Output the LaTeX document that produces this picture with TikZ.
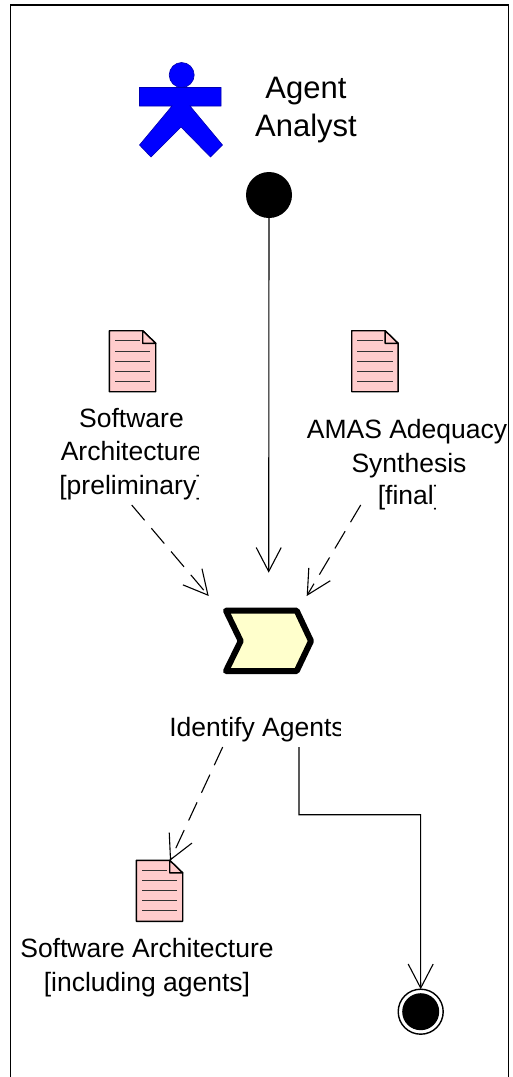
\documentclass[tikz,border=0pt]{standalone}
\usepackage{fontspec}
\setmainfont{Liberation Sans}
\usetikzlibrary{arrows.meta}
\tikzset{
  x=1pt,y=-1pt,
  lbl/.style={inner sep=0pt,outer sep=0pt,align=center,font=\fontsize{26.5}{33.5}\selectfont},
  biglbl/.style={inner sep=0pt,outer sep=0pt,align=center,font=\fontsize{31}{37.5}\selectfont},
  flow/.style={line width=1.1pt,-{Straight Barb[length=24pt,width=25pt,line width=1.1pt]}},
  dep/.style={flow,dash pattern=on 20pt off 10.5pt},
  docicon/.pic={
    \node[minimum width=46pt,minimum height=61pt,inner sep=0pt,outer sep=0pt] (box) at (23,30.5) {};
    \draw[fill=docpink,line width=1.4pt,line join=round] (0,0)--(33.4,0)--(46.4,12.6)--(46.4,61)--(0,61)--cycle;
    \draw[fill=docpink,line width=1.4pt,line join=round] (33.4,0)--(33.4,12.6)--(46.4,12.6)--cycle;
    \draw[line width=1pt,black!80] (5.7,10)--(31,10) (5.7,20.3)--(41,20.3) (5.7,30.3)--(41,30.3) (5.7,40.3)--(41,40.3) (5.7,50.3)--(41,50.3);
  }
}
\definecolor{docpink}{RGB}{255,204,204}
\definecolor{actblue}{RGB}{0,0,255}
\definecolor{actyellow}{RGB}{255,255,204}
\begin{document}
\begin{tikzpicture}
\useasboundingbox (0,0) rectangle (512,1077);
\fill[white] (0,0) rectangle (512,1077);
% frame
\draw[line width=1.5pt] (10.7,1077)--(10.7,5)--(508.3,5)--(508.3,1077);
% actor
\node[circle,fill=actblue,draw=black!30!actblue,line width=0.6pt,minimum size=25pt,inner sep=0pt] (head) at (181.7,75) {};
\fill[actblue,draw=black!30!actblue,line width=0.6pt] (139.5,87.5)--(221,87.5)--(221,106)--(190,106)--(222.5,145)--(210.5,157)--(181,127)--(151,157)--(139.5,145)--(172,106)--(139.5,106)--cycle;
\begin{scope}
\clip (240,60) rectangle (356.5,150);
\node[biglbl] (analyst) at (306,110) {Agent\\Analyst};
\end{scope}
% start
\node[circle,fill=black,minimum size=46pt,inner sep=0pt,outer sep=0pt] (start) at (269,195) {};
% docs
\pic (d1) at (109.3,330.7) {docicon};
\pic (d2) at (351.7,330.7) {docicon};
\pic (d3) at (136.3,860.3) {docicon};
% labels
\begin{scope}
\clip (40,400) rectangle (198.5,500);
\node[lbl] (l1) at (131.5,454) {Software\\Architecture\\{[}preliminary{]}};
\end{scope}
\node[lbl] (l2a) at (407,432) {AMAS Adequacy};
\node[lbl] (l2b) at (409,466) {Synthesis};
\begin{scope}
\clip (300,480) rectangle (435,515);
\node[lbl] (l2c) at (409.5,498) {{[}final{]}};
\end{scope}
\begin{scope}
\clip (150,700) rectangle (340,745);
\node[lbl] (l3) at (257,730) {Identify Agents};
\end{scope}
\begin{scope}
\clip (10,925) rectangle (272,1000);
\node[lbl] (l4) at (147,967.5) {Software Architecture\\{[}including agents{]}};
\end{scope}
% activity
\node[minimum width=86pt,minimum height=60pt,inner sep=0pt] (act) at (268.5,641) {};
\draw[fill=actyellow,line width=6pt,line join=round] (226,610.7)--(296.7,610.7)--(311,641)--(296.7,671)--(226,671)--(240.7,641)--cycle;
% final
\node[circle,draw=black,fill=white,line width=1.4pt,minimum size=45pt,inner sep=0pt,outer sep=0pt] (final) at (420.7,1011.7) {};
\node[circle,fill=black,minimum size=37pt,inner sep=0pt] (finalin) at (final) {};
% connector ends
\coordinate (tipmain) at (268.7,572.7);
\coordinate (s1) at (131.7,505);
\coordinate (t1) at (208.7,596);
\coordinate (s2) at (360.7,505);
\coordinate (t2) at (306.7,596);
\coordinate (s3) at (222.7,747);
\coordinate (t3) at (170,860.7);
\coordinate (s4) at (299,747);
\coordinate (k1) at (299,814.7);
\coordinate (k2) at (420.6,814.7);
\draw[flow] (start.south) -- (tipmain);
\draw[dep] (s1) -- (t1);
\draw[dep] (s2) -- (t2);
\draw[dep] (s3) -- (t3);
\draw[flow] (s4) -- (k1) -- (k2) -- (final.north);
\end{tikzpicture}
\end{document}
